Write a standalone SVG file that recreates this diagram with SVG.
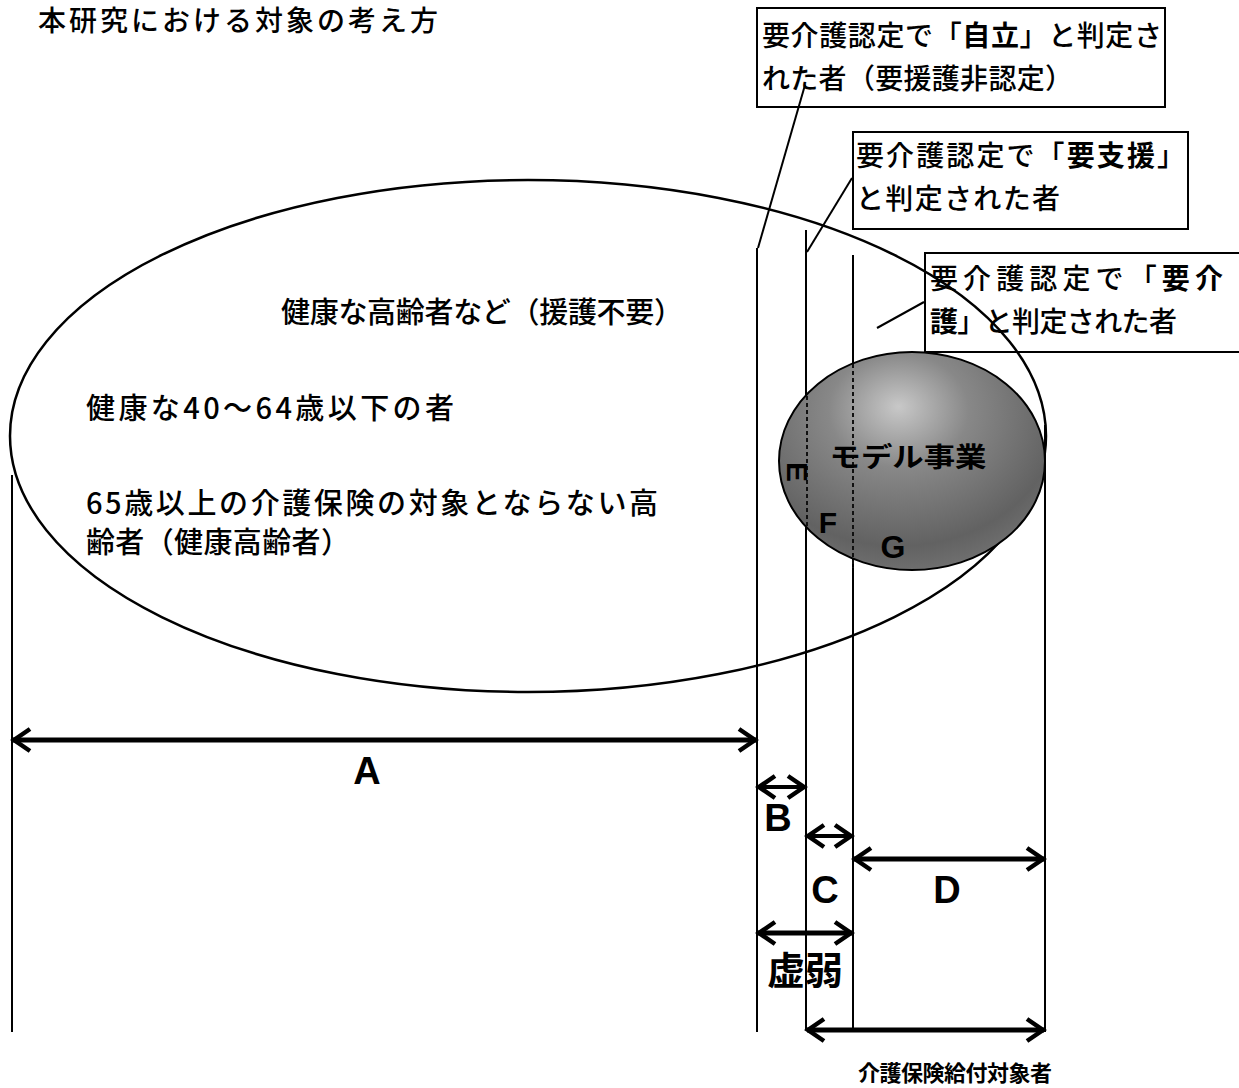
<svg xmlns="http://www.w3.org/2000/svg" width="1239" height="1088" viewBox="0 0 1239 1088">
<style>
.jp{font-family:"Noto Sans CJK JP","Noto Sans CJK SC",sans-serif;fill:#000;dominant-baseline:central;font-weight:500}
.lat{font-family:"Liberation Sans",Arial,sans-serif;font-weight:bold;fill:#000;dominant-baseline:central;text-anchor:middle}
.b{font-weight:bold}
.ln{stroke:#000;stroke-width:2;fill:none}
.box{stroke:#000;stroke-width:2;fill:none}
.arr{stroke:#000;fill:none;marker-start:url(#ah);marker-end:url(#ah)}
.dash{stroke:#111;stroke-width:2;stroke-dasharray:4 3;fill:none}
</style>
<defs>
<marker id="ah" viewBox="-22 -14 26 28" refX="1" refY="0" markerWidth="26" markerHeight="28" markerUnits="userSpaceOnUse" orient="auto-start-reverse" overflow="visible">
<path d="M-16,-11 L0,0 L-16,11" fill="none" stroke="#000" stroke-width="4.5"/>
</marker>
<radialGradient id="gr" cx="0.45" cy="0.3" r="0.75" fx="0.45" fy="0.25">
<stop offset="0" stop-color="#c8c8c8"/>
<stop offset="0.35" stop-color="#888"/>
<stop offset="0.8" stop-color="#626262"/>
<stop offset="1" stop-color="#747474"/>
</radialGradient>
</defs>
<rect width="1239" height="1088" fill="#fff"/>

<g id="title"><text class="jp" x="38" y="19" font-size="28" textLength="400" lengthAdjust="spacing">本研究における対象の考え方</text></g>

<g id="population">
<ellipse cx="528" cy="436" rx="518" ry="256" fill="none" stroke="#000" stroke-width="2.5"/>
<text class="jp" x="281" y="310" font-size="29" textLength="402" lengthAdjust="spacing">健康な高齢者など（援護不要）</text>
<text class="jp" x="86" y="406" font-size="29" textLength="368" lengthAdjust="spacing">健康な40～64歳以下の者</text>
<text class="jp" x="86" y="501" font-size="29" textLength="572" lengthAdjust="spacing">65歳以上の介護保険の対象とならない高</text>
<text class="jp" x="86" y="540" font-size="29" textLength="264" lengthAdjust="spacing">齢者（健康高齢者）</text>
</g>

<g id="dividers">
<line class="ln" x1="12" y1="475" x2="12" y2="1032"/>
<line class="ln" x1="757" y1="248" x2="757" y2="1032"/>
<line class="ln" x1="806" y1="230" x2="806" y2="1030"/>
<line class="ln" x1="853" y1="255" x2="853" y2="1028"/>
<line class="ln" x1="1045" y1="425" x2="1045" y2="1032"/>
</g>

<g id="model">
<ellipse cx="912" cy="461" rx="133" ry="109" fill="url(#gr)" stroke="#000" stroke-width="2"/>
<line class="dash" x1="807" y1="396" x2="807" y2="526"/>
<line class="dash" x1="853" y1="364" x2="853" y2="568"/>
<text class="jp b" x="908" y="455" font-size="27" text-anchor="middle" textLength="157" lengthAdjust="spacingAndGlyphs">モデル事業</text>
<text class="lat" x="0" y="0" font-size="30" transform="translate(797,472) rotate(90)">E</text>
<text class="lat" x="828" y="522" font-size="30">F</text>
<text class="lat" x="893" y="547" font-size="32">G</text>
</g>

<g id="box1">
<rect class="box" x="757" y="8" width="408" height="99"/>
<text class="jp" x="762" y="34" font-size="28" textLength="400" lengthAdjust="spacing">要介護認定で「<tspan class="b">自立</tspan>」と判定さ</text>
<text class="jp" x="762" y="77" font-size="28" textLength="311" lengthAdjust="spacing">れた者（要援護非認定）</text>
</g>

<g id="box2">
<rect class="box" x="853" y="132" width="335" height="97"/>
<text class="jp" x="856" y="154" font-size="28" textLength="329" lengthAdjust="spacing">要介護認定で「<tspan class="b">要支援</tspan>」</text>
<text class="jp" x="856" y="197" font-size="28" textLength="204" lengthAdjust="spacing">と判定された者</text>
</g>

<g id="box3">
<path class="box" d="M1239,253 H925 V352 H1239"/>
<text class="jp" x="930" y="277" font-size="28" textLength="293" lengthAdjust="spacing">要介護認定で「<tspan class="b">要介</tspan></text>
<text class="jp" x="930" y="320" font-size="28" textLength="247" lengthAdjust="spacing"><tspan class="b">護</tspan>」と判定された者</text>
</g>

<g id="connectors">
<line class="ln" x1="805" y1="85" x2="758" y2="248"/>
<line class="ln" x1="852" y1="178" x2="807" y2="252"/>
<line class="ln" x1="924" y1="302" x2="877" y2="328"/>
<line class="arr" x1="13" y1="740" x2="756" y2="740" stroke-width="5"/>
<line class="arr" x1="758" y1="787" x2="805" y2="787" stroke-width="4"/>
<line class="arr" x1="807" y1="836" x2="852" y2="836" stroke-width="4"/>
<line class="arr" x1="854" y1="859" x2="1044" y2="859" stroke-width="5"/>
<line class="arr" x1="758" y1="933" x2="852" y2="933" stroke-width="5"/>
<line class="arr" x1="807" y1="1030" x2="1044" y2="1030" stroke-width="5"/>
</g>

<g id="labels">
<text class="lat" x="367" y="771" font-size="38">A</text>
<text class="lat" x="778" y="818" font-size="38">B</text>
<text class="lat" x="825" y="890" font-size="38">C</text>
<text class="lat" x="947" y="890" font-size="38">D</text>
<text class="jp b" x="805" y="967" font-size="38" text-anchor="middle">虚弱</text>
<text class="jp b" x="955" y="1071" font-size="22" text-anchor="middle" textLength="194" lengthAdjust="spacing">介護保険給付対象者</text>
</g>
</svg>
